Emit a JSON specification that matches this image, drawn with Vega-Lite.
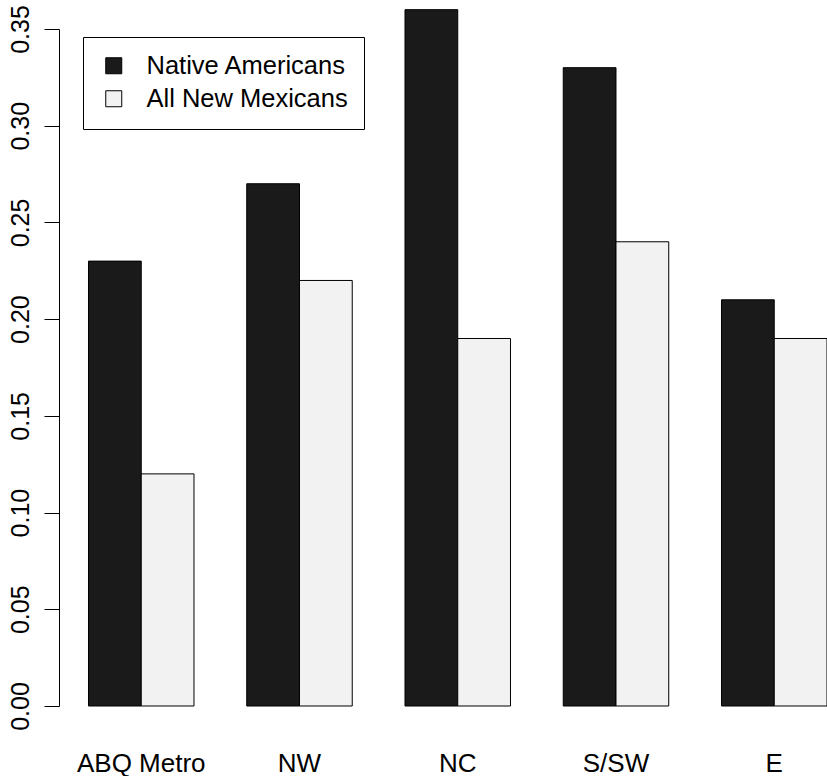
{
  "$schema": "https://vega.github.io/schema/vega-lite/v6.json",
  "autosize": {"type": "none"},
  "padding": {"left": 59, "top": 29, "right": 0, "bottom": 70},
  "width": 768,
  "height": 677,
  "background": "white",
  "view": {"stroke": null},
  "config": {"font": "Liberation Sans"},
  "data": {
    "values": [
      {"region": "ABQ Metro", "group": "Native Americans", "value": 0.23},
      {"region": "ABQ Metro", "group": "All New Mexicans", "value": 0.12},
      {"region": "NW", "group": "Native Americans", "value": 0.27},
      {"region": "NW", "group": "All New Mexicans", "value": 0.22},
      {"region": "NC", "group": "Native Americans", "value": 0.36},
      {"region": "NC", "group": "All New Mexicans", "value": 0.19},
      {"region": "S/SW", "group": "Native Americans", "value": 0.33},
      {"region": "S/SW", "group": "All New Mexicans", "value": 0.24},
      {"region": "E", "group": "Native Americans", "value": 0.21},
      {"region": "E", "group": "All New Mexicans", "value": 0.19}
    ]
  },
  "mark": {"type": "bar", "stroke": "black", "strokeWidth": 1, "clip": false},
  "encoding": {
    "x": {
      "field": "region",
      "type": "nominal",
      "sort": ["ABQ Metro", "NW", "NC", "S/SW", "E"],
      "scale": {"paddingInner": 0.33333, "paddingOuter": 0.0932, "align": 1},
      "axis": {
        "title": null,
        "domain": false,
        "ticks": false,
        "labelAngle": 0,
        "labelFont": "Liberation Sans",
        "labelFontSize": 26,
        "labelColor": "black",
        "labelBaseline": "alphabetic",
        "labelPadding": 65,
        "labelLimit": 0
      }
    },
    "xOffset": {
      "field": "group",
      "type": "nominal",
      "sort": ["Native Americans", "All New Mexicans"],
      "scale": {"paddingInner": 0, "paddingOuter": 0}
    },
    "y": {
      "field": "value",
      "type": "quantitative",
      "scale": {"domain": [0, 0.35], "nice": false, "zero": true},
      "axis": {
        "title": null,
        "grid": false,
        "values": [0, 0.05, 0.1, 0.15, 0.2, 0.25, 0.3, 0.35],
        "format": ".2f",
        "domainColor": "black",
        "domainWidth": 1,
        "tickColor": "black",
        "tickSize": 15,
        "labelAngle": -90,
        "labelAlign": "center",
        "labelBaseline": "alphabetic",
        "labelPadding": 16,
        "labelFont": "Liberation Sans",
        "labelFontSize": 25,
        "labelColor": "black",
        "labelOverlap": false,
        "labelFlush": false
      }
    },
    "color": {
      "field": "group",
      "type": "nominal",
      "sort": ["Native Americans", "All New Mexicans"],
      "scale": {"domain": ["Native Americans", "All New Mexicans"], "range": ["#1a1a1a", "#f2f2f2"]},
      "legend": {
        "title": null,
        "orient": "none",
        "legendX": 24,
        "legendY": 8,
        "direction": "vertical",
        "strokeColor": "black",
        "fillColor": "white",
        "padding": 16,
        "symbolType": "square",
        "symbolSize": 256,
        "symbolStrokeColor": "black",
        "symbolStrokeWidth": 1,
        "symbolOffset": 2,
        "labelOffset": 20,
        "labelFont": "Liberation Sans",
        "labelFontSize": 25.5,
        "labelColor": "black",
        "labelLimit": 0,
        "rowPadding": 6
      }
    }
  }
}
